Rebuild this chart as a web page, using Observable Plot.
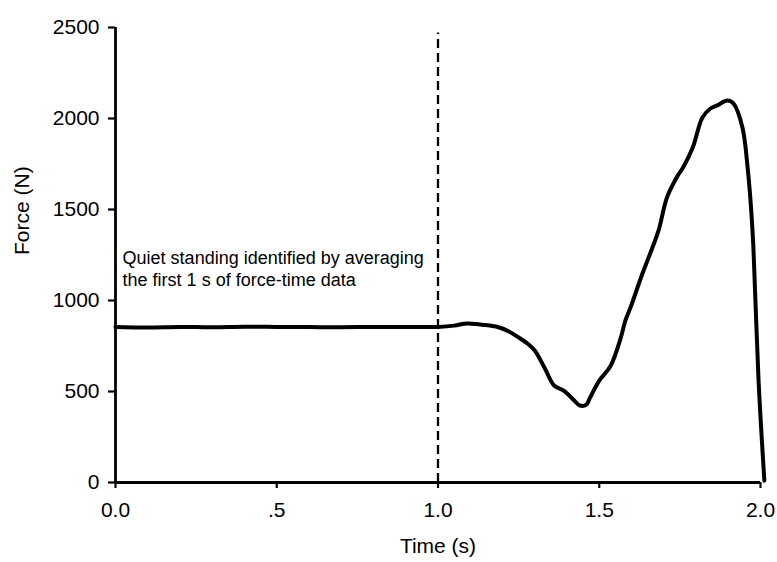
<!DOCTYPE html>
<html>
<head>
<meta charset="utf-8">
<script src="https://cdn.jsdelivr.net/npm/d3@7"></script>
<script src="https://cdn.jsdelivr.net/npm/@observablehq/plot@0.6"></script>
<style>
  html, body { margin: 0; padding: 0; background: #fff; }
  #chart svg { display: block; }
</style>
</head>
<body>
<div id="chart"></div>
<script>
const times = [0, 0.1, 0.2, 0.3, 0.4, 0.5, 0.6, 0.7, 0.8, 0.9, 1.0, 1.05, 1.09, 1.13, 1.18, 1.22, 1.25, 1.28, 1.30, 1.33, 1.36, 1.39, 1.42, 1.44, 1.46, 1.47, 1.50, 1.535, 1.566, 1.581, 1.597, 1.634, 1.665, 1.684, 1.71, 1.74, 1.76, 1.79, 1.82, 1.845, 1.866, 1.897, 1.916, 1.944, 1.96, 1.969, 1.978, 1.994, 2.012];
const forces = [855, 852, 855, 853, 856, 855, 854, 853, 855, 854, 855, 862, 874, 868, 857, 830, 797, 760, 725, 632, 533, 505, 455, 423, 428, 461, 560, 640, 790, 890, 962, 1148, 1291, 1385, 1566, 1676, 1731, 1841, 2006, 2055, 2072, 2099, 2083, 1951, 1731, 1550, 1291, 560, 10];
const xTicks = [0, 0.5, 1.0, 1.5, 2.0];
const xTickLabels = ["0.0", ".5", "1.0", "1.5", "2.0"];
const yTicks = [0, 500, 1000, 1500, 2000, 2500];
const quietEnd = 1.0;
const annotation = "Quiet standing identified by averaging\nthe first 1 s of force-time data";

const data = times.map((t, i) => ({t, f: forces[i]}));

const chart = Plot.plot({
  width: 777,
  height: 562,
  marginLeft: 115,
  marginRight: 17,
  marginTop: 27,
  marginBottom: 80,
  style: {fontFamily: "Liberation Sans, Arial, sans-serif", color: "#000", background: "#fff"},
  x: {domain: [0, 2.0]},
  y: {domain: [0, 2500]},
  marks: [
    Plot.axisX({ticks: xTicks, tickFormat: d => xTickLabels[xTicks.indexOf(d)], tickSize: 6, tickPadding: 14, fontSize: 21, strokeWidth: 2.2, label: null}),
    Plot.axisY({ticks: yTicks, tickFormat: d => String(d), tickSize: 7, tickPadding: 9, fontSize: 21, strokeWidth: 2.2, label: null}),
    Plot.ruleY([0], {stroke: "#000", strokeWidth: 2.8}),
    Plot.ruleX([0], {stroke: "#000", strokeWidth: 2.8}),
    Plot.ruleX([quietEnd], {y1: 0, y2: 2470, stroke: "#000", strokeWidth: 2.3, strokeDasharray: "9,5"}),
    Plot.line(data, {x: "t", y: "f", stroke: "#000", strokeWidth: 4, curve: "catmull-rom", strokeLinejoin: "round"}),
    Plot.text([annotation], {x: 0.022, y: 1181, text: d => d, textAnchor: "start", lineAnchor: "middle", fontSize: 18, lineHeight: 1.25, fill: "#000"}),
    Plot.text(["Time (s)"], {frameAnchor: "bottom", dy: 70, text: d => d, fontSize: 21, fill: "#000"}),
    Plot.text(["Force (N)"], {frameAnchor: "left", dx: -93, rotate: -90, text: d => d, fontSize: 21, fill: "#000"})
  ]
});
document.getElementById("chart").appendChild(chart);
</script>
</body>
</html>
